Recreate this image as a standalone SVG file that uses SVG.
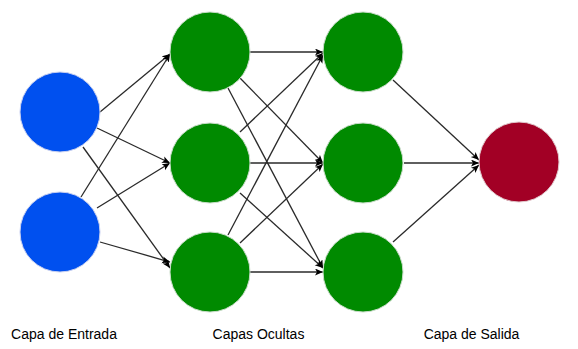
<svg xmlns="http://www.w3.org/2000/svg" width="578" height="349" viewBox="0 0 578 349">
<style>
.e{stroke:#2a2a2a;stroke-width:1.3;fill:none;marker-end:url(#a)}
.in{fill:#0050ef;stroke:#c8d0f0;stroke-width:1}
.hid{fill:#008a00;stroke:#c8dcc8;stroke-width:1}
.out{fill:#a20025;stroke:#e0c8cc;stroke-width:1}
.t{font-family:"Liberation Sans",Arial,sans-serif;font-size:14px;fill:#000;text-anchor:middle}
</style>
<defs>
<marker id="a" markerUnits="userSpaceOnUse" markerWidth="10" markerHeight="8" refX="8" refY="3.5" orient="auto">
<path d="M0,0 L8,3.5 L0,7 L2,3.5 z" fill="#000"/>
</marker>
</defs>
<g id="connectors">
<line class="e" x1="100" y1="112" x2="170" y2="54"/>
<line class="e" x1="97" y1="128" x2="170" y2="163"/>
<line class="e" x1="83" y1="147" x2="170" y2="268"/>
<line class="e" x1="81" y1="197" x2="170" y2="54"/>
<line class="e" x1="97" y1="208" x2="170" y2="163"/>
<line class="e" x1="100" y1="242" x2="170" y2="262"/>
<line class="e" x1="250" y1="52" x2="323" y2="52"/>
<line class="e" x1="240" y1="78" x2="323" y2="163"/>
<line class="e" x1="228" y1="88" x2="323" y2="268"/>
<line class="e" x1="240" y1="132" x2="323" y2="53"/>
<line class="e" x1="250" y1="163" x2="323" y2="163"/>
<line class="e" x1="240" y1="193" x2="323" y2="268"/>
<line class="e" x1="228" y1="235" x2="323" y2="55"/>
<line class="e" x1="240" y1="243" x2="323" y2="164"/>
<line class="e" x1="250" y1="272" x2="323" y2="272"/>
<line class="e" x1="393" y1="80" x2="479" y2="160"/>
<line class="e" x1="404" y1="163" x2="479" y2="163"/>
<line class="e" x1="393" y1="242" x2="479" y2="165"/>
</g>
<g id="in1"><circle class="in" cx="60" cy="112" r="40"/></g>
<g id="in2"><circle class="in" cx="60" cy="232" r="40"/></g>
<g id="h11"><circle class="hid" cx="210" cy="52" r="40"/></g>
<g id="h12"><circle class="hid" cx="210" cy="163" r="40"/></g>
<g id="h13"><circle class="hid" cx="210" cy="272" r="40"/></g>
<g id="h21"><circle class="hid" cx="363" cy="52" r="40"/></g>
<g id="h22"><circle class="hid" cx="363" cy="163" r="40"/></g>
<g id="h23"><circle class="hid" cx="363" cy="272" r="40"/></g>
<g id="out"><circle class="out" cx="519" cy="162" r="40"/></g>
<g id="labels">
<text class="t" x="64" y="339">Capa de Entrada</text>
<text class="t" x="258.5" y="339">Capas Ocultas</text>
<text class="t" x="471.5" y="339">Capa de Salida</text>
</g>
</svg>
